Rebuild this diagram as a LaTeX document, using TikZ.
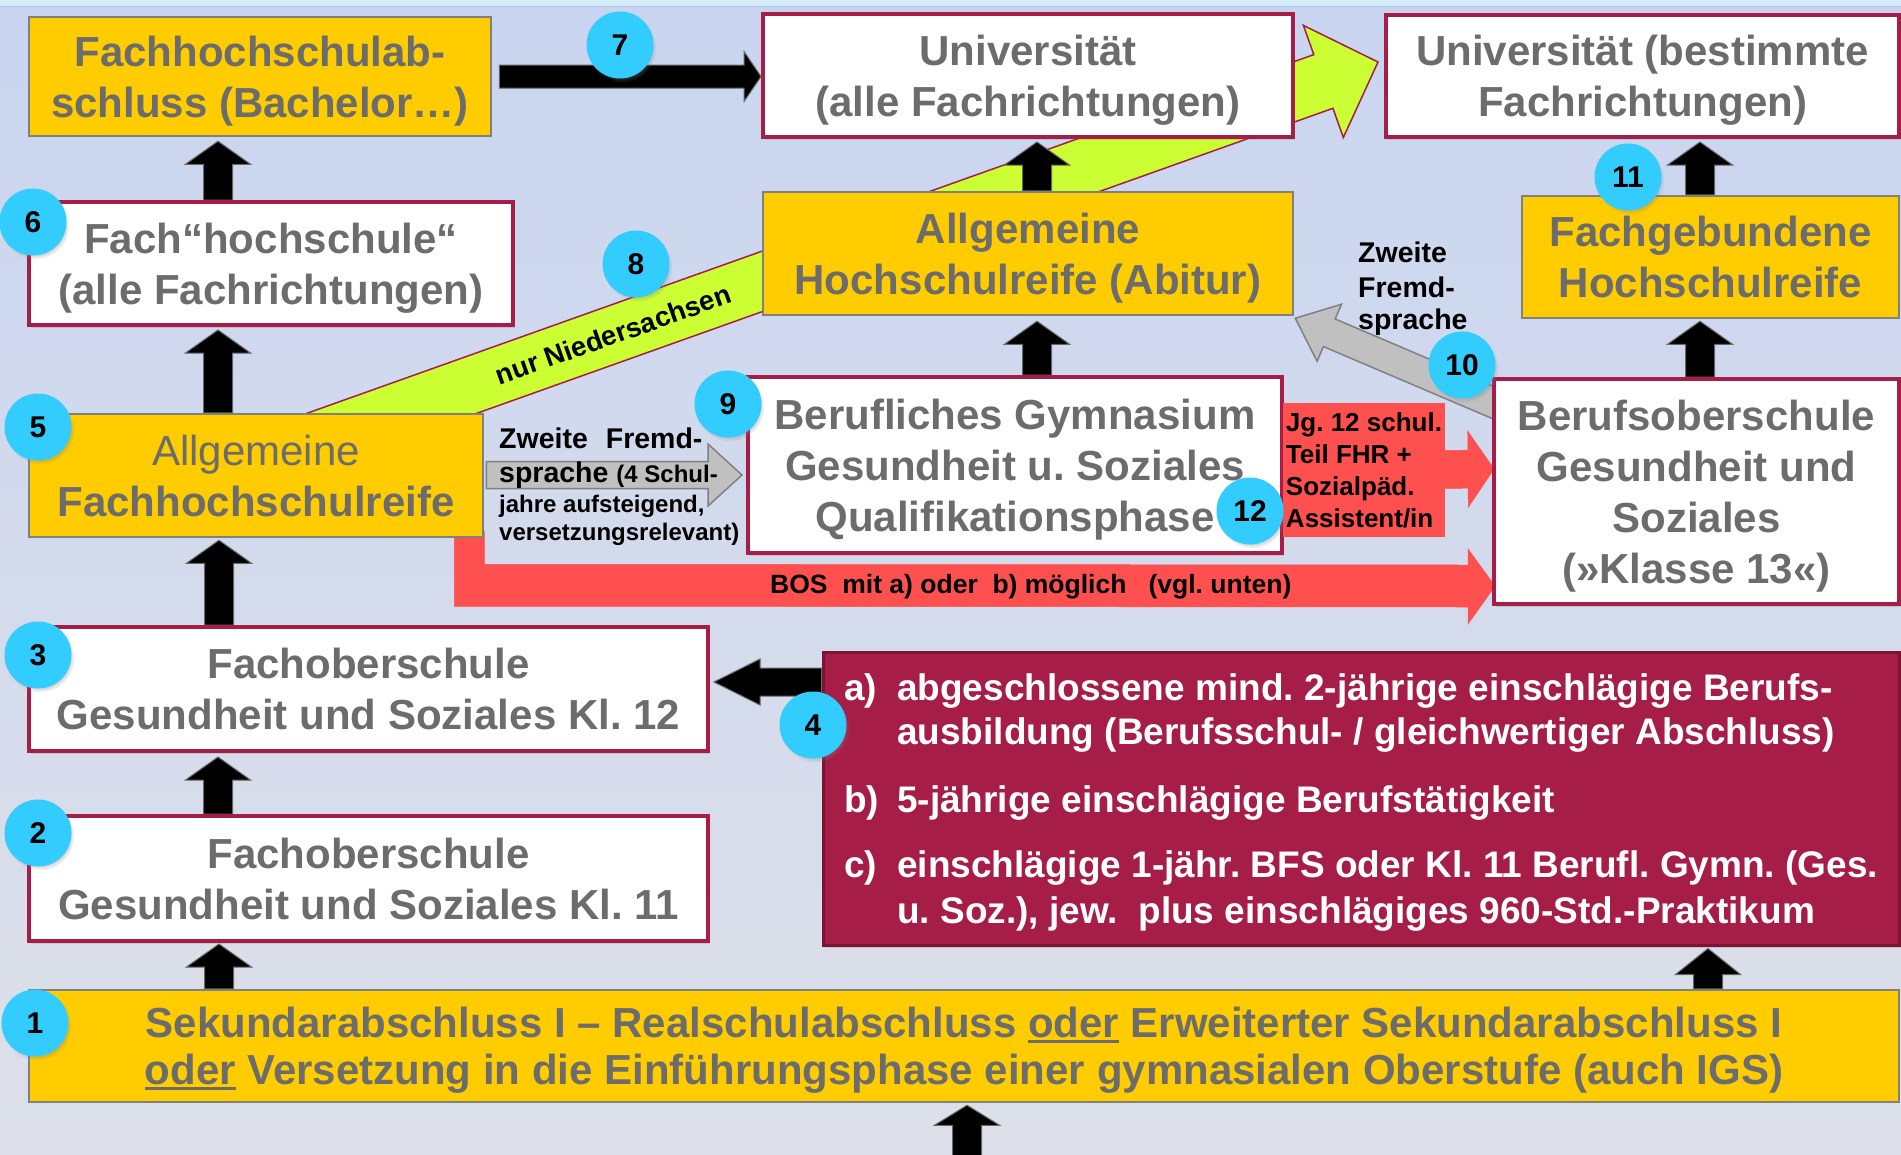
\documentclass[tikz,border=0pt]{standalone}
\usepackage{fontspec}
\setmainfont{Liberation Sans}
\usetikzlibrary{calc,positioning,shadows}

\definecolor{bgtop}{RGB}{201,213,240}
\definecolor{bgbot}{RGB}{221,224,232}
\definecolor{strip}{RGB}{214,236,250}
\definecolor{stripline}{RGB}{170,200,225}
\definecolor{crimson}{RGB}{166,29,71}
\definecolor{darkcrimson}{RGB}{125,20,52}
\definecolor{gold}{RGB}{255,204,0}
\definecolor{boxline}{RGB}{128,128,128}
\definecolor{txtgray}{RGB}{108,108,108}
\definecolor{lime}{RGB}{204,255,51}
\definecolor{redarr}{RGB}{255,80,80}
\definecolor{bubble}{RGB}{51,204,255}
\definecolor{arrgray}{RGB}{192,192,192}

\pgfdeclarelayer{backdrop}
\pgfsetlayers{backdrop,main}

\newcommand{\fsz}[2]{\fontsize{#1}{#2}\selectfont}
\newcommand{\ulword}[1]{\leavevmode\setbox0=\hbox{#1}\rlap{\rule[-5pt]{\wd0}{2.5pt}}\box0\relax}
% block arrow: [style]{from}{to}{half shaft}{half head}{head length}
\newcommand{\blockarrow}[6][]{%
	\coordinate (baS) at (#2);
	\coordinate (baE) at (#3);
	\coordinate (baH) at ($(baE)!#6!(baS)$);
	\filldraw[#1] ($(baS)!#4!90:(baE)$) -- ($(baH)!#4!90:(baE)$)
		-- ($(baH)!#5!90:(baE)$) -- (baE) -- ($(baH)!#5!-90:(baE)$)
		-- ($(baH)!#4!-90:(baE)$) -- ($(baS)!#4!-90:(baE)$) -- cycle;
}

\tikzset{%
	whitebox/.style  = {draw=crimson, line width=4pt, fill=white, inner sep=0pt, align=center, text depth=0pt, text=txtgray, font=\fsz{42}{51}\bfseries, drop shadow={shadow xshift=2pt, shadow yshift=-3pt, opacity=0.25}},
	goldbox/.style   = {draw=boxline, line width=2.5pt, fill=gold, inner sep=0pt, align=center, text depth=0pt, text=txtgray, font=\fsz{42}{51}\bfseries},
	critbox/.style   = {draw=darkcrimson, line width=3pt, fill=crimson, drop shadow={shadow xshift=2pt, shadow yshift=-3pt, opacity=0.25}},
	crittext/.style  = {anchor=base west, inner sep=0pt, text=white, font=\fsz{37}{45}\bfseries},
	redbox/.style    = {fill=redarr, inner sep=0pt, align=left, font=\fsz{26}{32}\bfseries},
	note/.style      = {anchor=base west, inner sep=0pt, font=\fsz{28.5}{33}\bfseries},
	smallnote/.style = {note, font=\fsz{24}{28}\bfseries},
	num/.style       = {circle, fill=bubble, minimum size=67pt, inner sep=0pt, font=\fsz{30}{30}\bfseries, circular drop shadow={shadow xshift=2pt, shadow yshift=-3pt, opacity=0.35, shadow scale=1.03}},
	blk/.style       = {fill=black, draw=black!60, line width=1pt}, % black arrows
	grayarr/.style   = {fill=arrgray, draw=boxline, line width=1.5pt},
	redfill/.style   = {fill=redarr, draw=redarr, line width=0.5pt},
	band/.style      = {fill=lime, draw=crimson, line width=1.5pt},
}

\begin{document}
\frenchspacing
\begin{tikzpicture}[x=1pt, y=-1pt]
	\useasboundingbox (0,0) rectangle (1901,1154);
	\begin{pgfonlayer}{backdrop}
		\shade[top color=bgtop, bottom color=bgbot] (0,0) rectangle (1901,1154);
		\fill[strip] (0,0) rectangle (1901,6);
		\draw[stripline, line width=1pt] (0,6.5) -- (1901,6.5);
	\end{pgfonlayer}

	% left column
	\node[goldbox, minimum width=462pt, minimum height=119pt] (fhab) at (260,76.5) {Fachhochschulab-\\schluss (Bachelor…)};
	\node[whitebox, minimum width=484pt, minimum height=123pt] (fhs) at (271,263.5) {Fach“hochschule“\\(alle Fachrichtungen)};
	\node[goldbox, minimum width=454pt, minimum height=123pt] (fhr) at (256,475.5) {{\mdseries Allgemeine}\\Fachhochschulreife};
	\node[whitebox, minimum width=679pt, minimum height=124pt] (fos12) at (368.5,689) {Fachoberschule\\Gesundheit und Soziales Kl. 12};
	\node[whitebox, minimum width=679pt, minimum height=125pt] (fos11) at (368.5,878.5) {Fachoberschule\\Gesundheit und Soziales Kl. 11};
	\node[goldbox, minimum width=1870pt, minimum height=112pt, font=\fsz{42}{47}\bfseries] (sek) at (964,1046)
		{Sekundarabschluss I – Realschulabschluss \ulword{oder} Erweiterter Sekundarabschluss I\\\ulword{oder} Versetzung in die Einführungsphase einer gymnasialen Oberstufe (auch IGS)};

	% middle and right
	\node[whitebox, minimum width=530pt, minimum height=123pt] (uni) at (1028,75.5) {Universität\\(alle Fachrichtungen)};
	\node[whitebox, minimum width=513pt, minimum height=122pt] (unib) at (1642.5,76) {Universität (bestimmte\\Fachrichtungen)};
	\node[goldbox, minimum width=530pt, minimum height=123pt] (abi) at (1028,253.5) {Allgemeine\\Hochschulreife (Abitur)};
	\node[goldbox, minimum width=377pt, minimum height=122pt] (fgh) at (1710.5,257) {Fachgebundene\\Hochschulreife};
	\node[whitebox, minimum width=534pt, minimum height=176pt] (bgym) at (1015,465) {Berufliches Gymnasium\\Gesundheit u. Soziales\\Qualifikationsphase};
	\node[whitebox, minimum width=405pt, minimum height=225pt] (bos) at (1696.5,491.5) {Berufsoberschule\\Gesundheit und\\Soziales\\(»Klasse 13«)};
	\node[redbox, minimum width=162pt, minimum height=134pt] (jg) at (1364,470) {Jg. 12 schul.\\Teil FHR +\\Sozialpäd.\\Assistent/in};

	% requirements
	\node[critbox, minimum width=1076pt, minimum height=293pt] (crit) at (1361,798.5) {};
	\node[crittext] (la) at (844,700) {a)};
	\node[crittext] (ta1) at (897,700) {abgeschlossene mind. 2-jährige einschlägige Berufs-};
	\node[crittext] (ta2) at (897,744) {ausbildung (Berufsschul- / gleichwertiger Abschluss)};
	\node[crittext] (lb) at (844,812) {b)};
	\node[crittext] (tb) at (897,812) {5-jährige einschlägige Berufstätigkeit};
	\node[crittext] (lc) at (844,877) {c)};
	\node[crittext] (tc1) at (897,877) {einschlägige 1-jähr. BFS oder Kl. 11 Berufl. Gymn. (Ges.};
	\node[crittext] (tc2) at (897,923) {u. Soz.), jew.\ \ plus einschlägiges 960-Std.-Praktikum};

	\coordinate (ndsS) at ($(fhr.north west)+(273,33)$);
	\coordinate (ndsE) at ($(unib.west)+(-6,-14)$);
	\coordinate (bottom) at (967,1170);

	\begin{pgfonlayer}{backdrop}
		\blockarrow[band]{ndsS}{ndsE}{28.5pt}{59.5pt}{58pt}
		\filldraw[redfill] ($(fhr.south east)+(-30,-7)$) -- ($(fhr.south east)+(0,-7)$) -- ($(fhr.south east)+(0,26)$)
			-- ($(bos.south west)+(-24,-41)$) -- ($(bos.south west)+(-24,-57)$) -- ($(bos.south west)+(3,-20)$)
			-- ($(bos.south west)+(-24,18)$) -- ($(bos.south west)+(-24,1)$) -- ($(fhr.south east)+(-30,68)$) -- cycle;
		\blockarrow[redfill]{jg.center}{$(bos.west |- jg.center)+(2,-1)$}{19pt}{38pt}{26pt}
		\blockarrow[grayarr]{$(bos.north west)+(16,32)$}{$(abi.south east)+(1,2)$}{15pt}{31pt}{37pt}
		% black arrows
		\blockarrow[blk]{218,0 |- fhs.north}{$(218,0 |- fhab.south)+(0,4)$}{14.5pt}{32.5pt}{23pt}
		\blockarrow[blk]{218,0 |- fhr.north}{$(218,0 |- fhs.south)+(0,3)$}{14.5pt}{32.5pt}{23pt}
		\blockarrow[blk]{219,0 |- fos12.north}{$(219,0 |- fhr.south)+(0,2)$}{14.5pt}{32.5pt}{23pt}
		\blockarrow[blk]{218,0 |- fos11.north}{$(218,0 |- fos12.south)+(0,4)$}{14.5pt}{32.5pt}{23pt}
		\blockarrow[blk]{219,0 |- sek.north}{$(219,0 |- fos11.south)+(0,1)$}{14.5pt}{32.5pt}{23pt}
		\blockarrow[blk]{1708,0 |- sek.north}{$(1708,0 |- crit.south)+(0,2)$}{14.5pt}{32.5pt}{26pt}
		\blockarrow[blk]{bottom}{$(bottom |- sek.south)+(0,2)$}{14.5pt}{32.5pt}{20pt}
		\blockarrow[blk]{1037,0 |- bgym.north}{$(1037,0 |- abi.south)+(0,5)$}{14.5pt}{32.5pt}{23pt}
		\blockarrow[blk]{1037,0 |- abi.north}{$(1037,0 |- uni.south)+(0,3)$}{14.5pt}{32.5pt}{23pt}
		\blockarrow[blk]{1700,0 |- bos.north}{$(1700,0 |- fgh.south)+(0,2)$}{14.5pt}{32.5pt}{23pt}
		\blockarrow[blk]{1700,0 |- fgh.north}{$(1700,0 |- unib.south)+(0,3)$}{14.5pt}{32.5pt}{23pt}
		\blockarrow[blk]{$(fhab.east)+(7,0)$}{uni.west |- fhab.east}{11.5pt}{25pt}{17pt}
		\blockarrow[blk]{crit.west |- 0,682}{$(fos12.east |- 0,682)+(4,0)$}{14pt}{23pt}{46pt}
	\end{pgfonlayer}

	% second language for the vocational grammar school
	\blockarrow[grayarr]{$(fhr.east |- 0,475)+(2,0)$}{$(bgym.west |- 0,475)+(-4,0)$}{13.5pt}{31pt}{34pt}
	\node[note] (zf1) at (499,448) {Zweite\hspace{18pt}Fremd-};
	\node[note] (zf2) at (499,482) {sprache {\fsz{24}{28}(4 Schul-}};
	\node[smallnote] (zf3) at (499,512) {jahre aufsteigend,};
	\node[smallnote] (zf4) at (499,540) {versetzungsrelevant)};

	\node[note] (zs1) at (1358,262) {Zweite};
	\node[note] (zs2) at (1358,297) {Fremd-};
	\node[note] (zs3) at (1358,329) {sprache};

	\node[note, font=\fsz{26.5}{30}\bfseries] (bosl) at (770,593) {BOS\ \ mit a) oder\ \ b) möglich\ \ \ (vgl. unten)};
	\path (ndsS) -- (ndsE) node[pos=0.29, sloped, inner sep=0pt, font=\fsz{27.5}{30}\bfseries] (nds) {nur Niedersachsen};

	% numbers
	\node[num] (n1) at (35,1023) {1};
	\node[num] (n2) at (38,833) {2};
	\node[num] (n3) at (38,655) {3};
	\node[num] (n4) at (813,725) {4};
	\node[num] (n5) at (38,427) {5};
	\node[num] (n6) at (33,222) {6};
	\node[num] (n7) at (620,45) {7};
	\node[num] (n8) at (636,264) {8};
	\node[num] (n9) at (728,404) {9};
	\node[num] (n10) at (1462,365) {10};
	\node[num] (n11) at (1628,177) {11};
	\node[num] (n12) at (1250,511) {12};
\end{tikzpicture}
\end{document}
